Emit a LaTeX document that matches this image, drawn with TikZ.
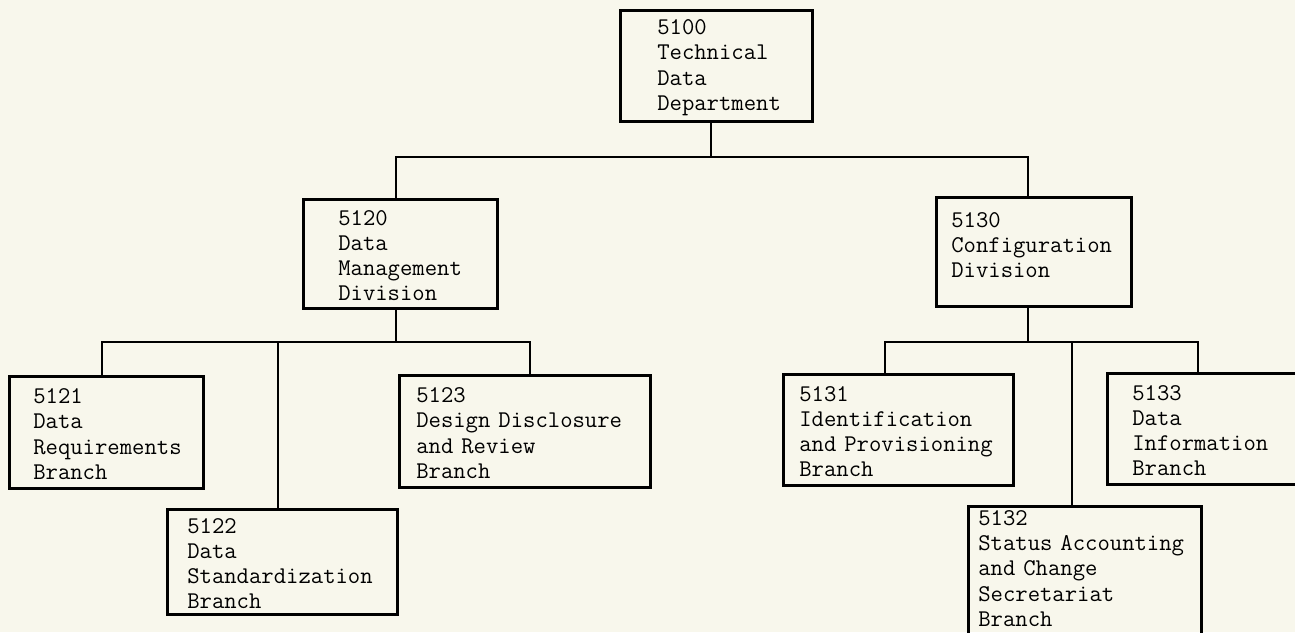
\documentclass[tikz,border=0pt]{standalone}
\usetikzlibrary{positioning}
\definecolor{paper}{HTML}{F8F7EC}
\tikzset{lskip/.style={execute at begin node={\leftskip=#1}}}
\begin{document}
\begin{tikzpicture}[draw=black!100,x=0.5pt,y=-0.5pt,line width=1.3pt]
 	\def \busone{157}
 	\def \bustwo{342}
 	\tikzstyle{u-node}=[rectangle,draw=black!100,line width=1.3pt,inner sep=0pt,anchor=north west,align=left,text height=9.3pt,font={\fontsize{12}{12.6}\selectfont\ttfamily}]
 	\useasboundingbox (0,0) rectangle (1295,632);
 	\clip (0,0) rectangle (1295,632);
 	\fill[paper] (0,0) rectangle (1295,632);
 	% department and divisions
 	\node[u-node,lskip=18.5pt,text width=96pt,minimum height=55.5pt] (d5100) at (619,9) {5100\\Technical\\Data\\Department};
 	\node[u-node,lskip=17.5pt,text width=97pt,minimum height=54.5pt] (d5120) at (302,198) {5120\\Data\\Management\\Division};
 	\node[u-node,lskip=7.5pt,text width=97.5pt,minimum height=54.5pt,text depth=34pt] (d5130) at (935,196) {5130\\Configuration\\Division};
 	% branches
 	\node[u-node,lskip=12pt,text width=97pt,minimum height=56pt] (b5121) at (8,375) {5121\\Data\\Requirements\\Branch};
 	\node[u-node,lskip=10pt,text width=115pt,minimum height=52.5pt] (b5122) at (166,508) {5122\\Data\\Standardization\\Branch};
 	\node[u-node,lskip=8.5pt,text width=125.5pt,minimum height=56pt] (b5123) at (398,374) {5123\\Design Disclosure\\and Review\\Branch};
 	\node[u-node,lskip=8pt,text width=115pt,minimum height=55.5pt] (b5131) at (782,373) {5131\\Identification\\and Provisioning\\Branch};
 	\node[u-node,lskip=5pt,text width=116.5pt,minimum height=66pt,text height=7.5pt,text depth=54.4pt] (b5132) at (967,505) {5132\\Status Accounting\\and Change\\Secretariat\\Branch};
 	\node[u-node,lskip=12.5pt,text width=98pt,minimum height=55.5pt] (b5133) at (1106,372) {5133\\Data\\Information\\Branch};
 	\coordinate (j5100) at (711,\busone);
 	\coordinate (j5120) at (396,\busone);
 	\coordinate (j5130) at (1028,\busone);
 	\coordinate (k5120) at (396,\bustwo);
 	\coordinate (k5121) at (102,\bustwo);
 	\coordinate (k5122) at (278,\bustwo);
 	\coordinate (k5123) at (530,\bustwo);
 	\coordinate (k5130) at (1028,\bustwo);
 	\coordinate (k5131) at (885,\bustwo);
 	\coordinate (k5132) at (1072,\bustwo);
 	\coordinate (k5133) at (1198,\bustwo);
 	\draw (d5100.south -| j5100) -- (j5100);
 	\draw (d5120.north -| j5120) -- (j5120) -- (j5130) -- (j5130 |- d5130.north);
 	\draw (d5120.south -| k5120) -- (k5120);
 	\draw (d5130.south -| k5130) -- (k5130);
 	\draw (b5121.north -| k5121) -- (k5121) -- (k5123) -- (k5123 |- b5123.north);
 	\draw (b5131.north -| k5131) -- (k5131) -- (k5133) -- (k5133 |- b5133.north);
 	\draw (k5122) -- (k5122 |- b5122.north);
 	\draw (k5132) -- (k5132 |- b5132.north);
\end{tikzpicture}
\end{document}
